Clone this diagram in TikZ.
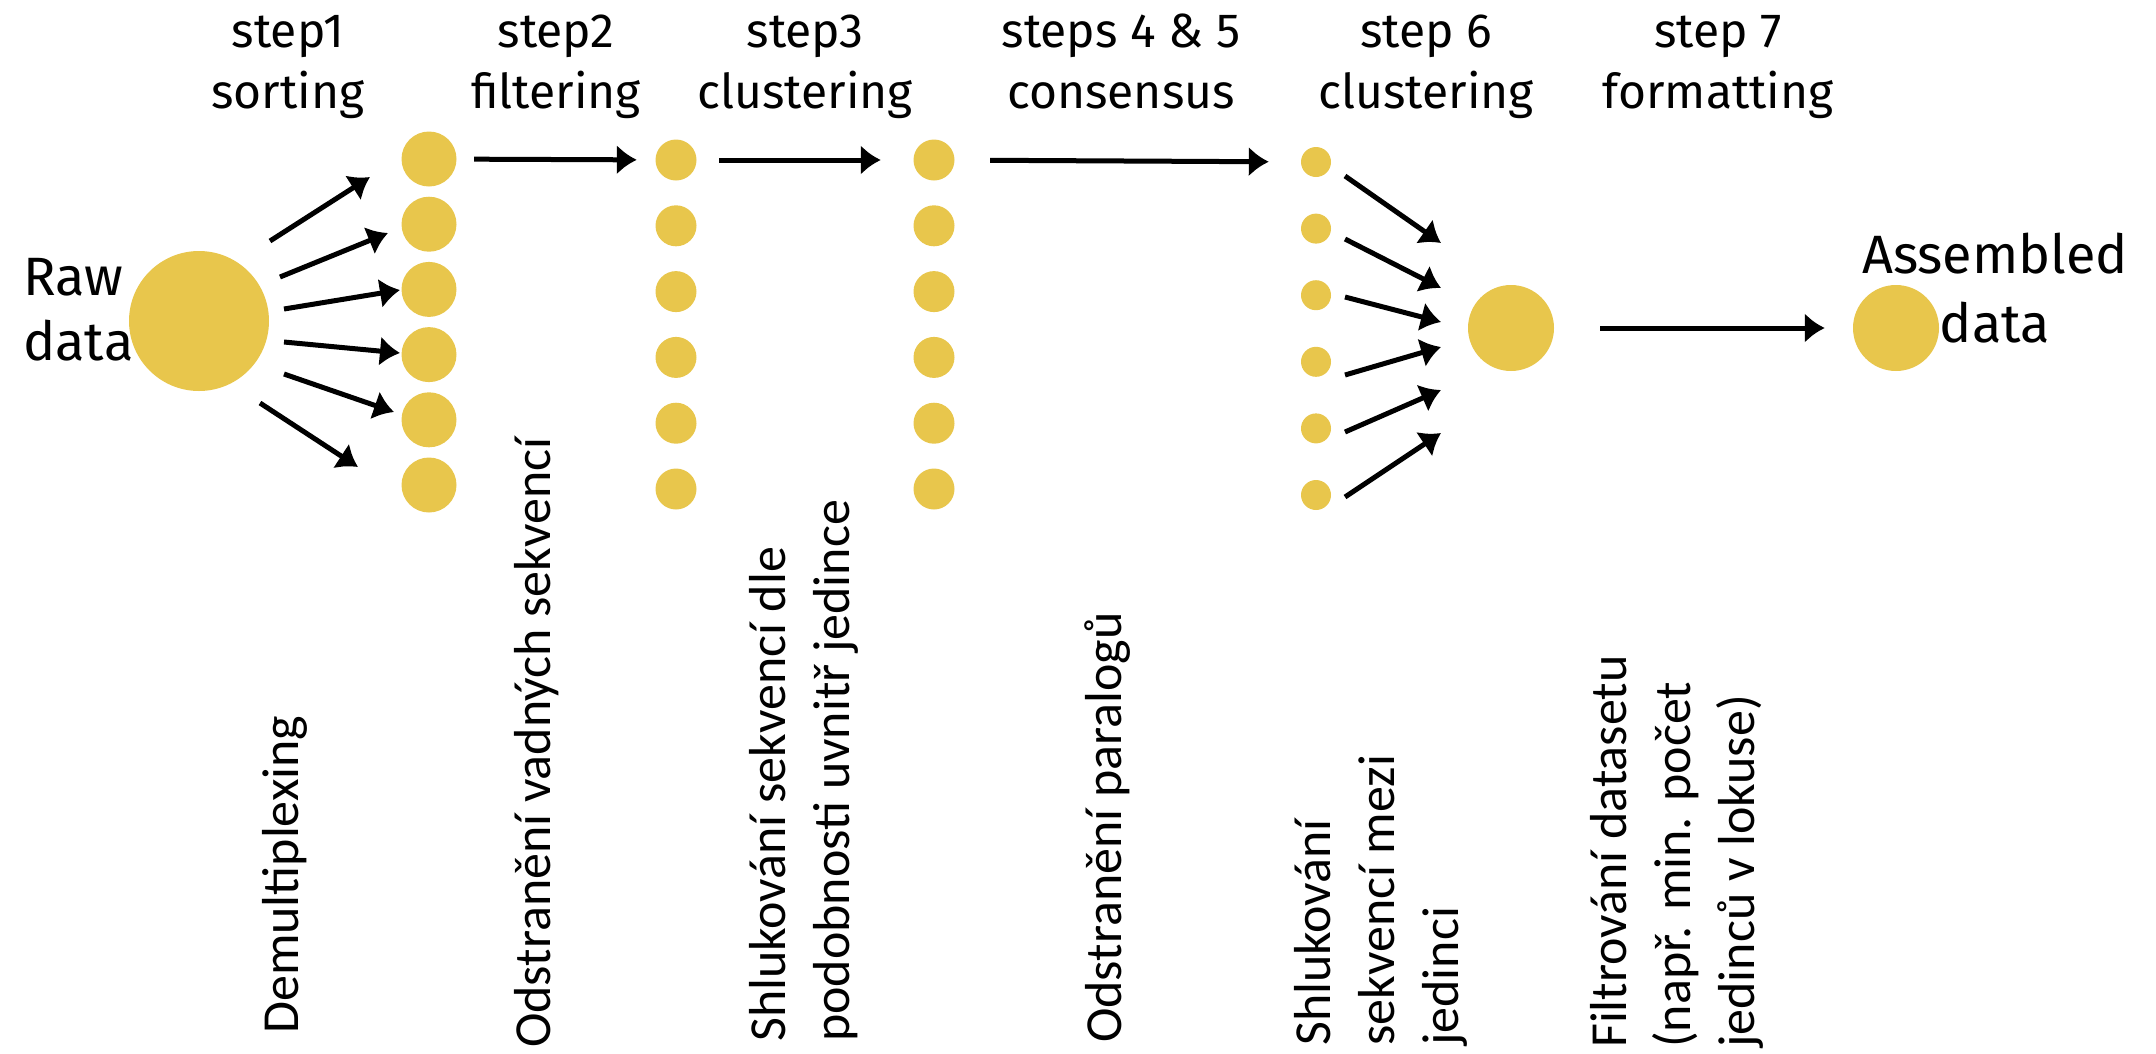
\documentclass[tikz,border=0pt]{standalone}
\usepackage{fontspec}
\setmainfont{Fira Sans}
\newfontfamily\calfont{Carlito}
\usetikzlibrary{arrows.meta}
\definecolor{dotyellow}{RGB}{232,198,76}
\begin{document}
\begin{tikzpicture}[x=1pt,y=-1pt,
  ydot/.style={circle,fill=dotyellow,draw=none,inner sep=0pt,minimum size=#1},
  arr/.style={line width=5pt,-{Latex[length=20pt,width=30pt]}},
  toplabel/.style={font=\fontsize{48}{61}\selectfont,align=center,anchor=base,inner sep=0pt},
  vlabel/.style={font=\calfont\fontsize{52}{64}\selectfont,align=left,rotate=90,anchor=base west,inner sep=0pt},
  bigfont/.style={font=\fontsize{54}{#1}\selectfont,inner sep=0pt}]

\useasboundingbox (0,0) rectangle (2156,1053);

% circles
\node[ydot=140pt] (raw) at (199,321) {};
\foreach \i in {1,...,6} {
  \node[ydot=55pt] (a\i) at (429,{159+65.2*(\i-1)}) {};
  \node[ydot=41pt] (b\i) at (676,{160+65.8*(\i-1)}) {};
  \node[ydot=41pt] (c\i) at (934,{160+65.8*(\i-1)}) {};
  \node[ydot=30pt] (d\i) at (1316,{162+66.6*(\i-1)}) {};
}
\node[ydot=86pt] (m) at (1511,328) {};
\node[ydot=86pt] (asm) at (1896,328) {};

% fan from raw data
\coordinate (r1s) at (270,241); \coordinate (r1e) at (370,177);
\coordinate (r2s) at (280,277); \coordinate (r2e) at (388,233);
\coordinate (r3s) at (284,309); \coordinate (r3e) at (400,290);
\coordinate (r4s) at (284,342); \coordinate (r4e) at (400,353);
\coordinate (r5s) at (284,374); \coordinate (r5e) at (394,412);
\coordinate (r6s) at (260,403); \coordinate (r6e) at (358,467);
\foreach \i in {1,...,6} \draw[arr] (r\i s) -- (r\i e);

% fan into merged
\coordinate (f1s) at (1345,176); \coordinate (f1e) at (1441,243);
\coordinate (f2s) at (1345,239); \coordinate (f2e) at (1441,288);
\coordinate (f3s) at (1345,297); \coordinate (f3e) at (1441,322);
\coordinate (f4s) at (1345,375); \coordinate (f4e) at (1441,347);
\coordinate (f5s) at (1345,432); \coordinate (f5e) at (1441,390);
\coordinate (f6s) at (1345,497); \coordinate (f6e) at (1441,433);
\foreach \i in {1,...,6} \draw[arr] (f\i s) -- (f\i e);

% straight arrows
\draw[arr,shorten <=17.5pt,shorten >=18.5pt] (a1) -- (b1);
\draw[arr,shorten <=22.5pt,shorten >=32.5pt] (b1) -- (c1);
\draw[arr,shorten <=35.5pt,shorten >=32pt] (c1) -- (d1);
\draw[arr,shorten <=46pt,shorten >=28pt] (m) -- (asm);

% top labels (base anchor = baseline of last line)
\node[toplabel] (t1) at (288,108) {step1\\sorting};
\node[toplabel] (t2) at (556,108) {step2\\filtering};
\node[toplabel] (t3) at (805,108) {step3\\clustering};
\node[toplabel] (t45) at (1121,108) {steps 4 \& 5\\consensus};
\node[toplabel] (t6) at (1426,108) {step 6\\clustering};
\node[toplabel] (t7) at (1718,108) {step 7\\formatting};

\node[bigfont=65,align=left,anchor=base west] (rawt) at (23,360) {Raw\\data};
\node[bigfont=69,align=center,anchor=base] (asmt) at (1995,342) {Assembled\\data};

% rotated labels (base west = start of last line's baseline)
\node[vlabel] (l1) at (298,1034) {Demultiplexing};
\node[vlabel] (l2) at (550,1048) {Odstranění vadných sekvencí};
\node[vlabel] (l3) at (849,1042) {Shlukování sekvencí dle\\podobnosti uvnitř jedince};
\node[vlabel] (l4) at (1121,1043) {Odstranění paralogů};
\node[vlabel] (l5) at (1458,1046) {Shlukování\\sekvencí mezi\\jedinci};
\node[vlabel] (l6) at (1754,1048) {Filtrování datasetu\\(např. min. počet\\jedinců v lokuse)};
\end{tikzpicture}
\end{document}
